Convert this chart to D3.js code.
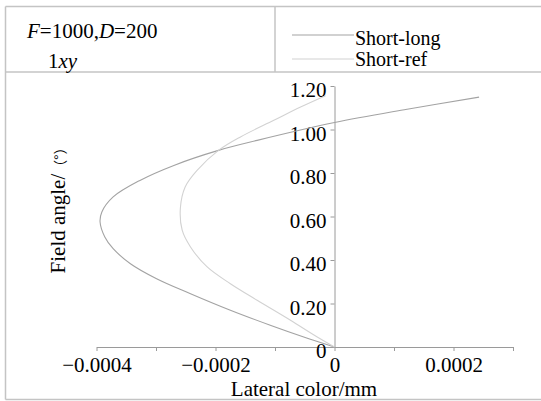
<!DOCTYPE html>
<html>
<head>
<meta charset="utf-8">
<script src="https://cdn.jsdelivr.net/npm/d3@7"></script>
</head>
<body style="margin:0">
<svg id="chart" width="541" height="401"></svg>
<script>
// ---- data ----
const seriesNames = ["Short-long", "Short-ref"];
const shortLongAngle = [0, 0.046, 0.100, 0.169, 0.245, 0.314, 0.383, 0.452, 0.506, 0.575, 0.621, 0.690, 0.766, 0.835, 0.904, 0.950, 1.032, 1.093, 1.149];
const shortLongColor = [0, -0.0000517, -0.000108, -0.000175, -0.000242, -0.000299, -0.000343, -0.000372, -0.000386, -0.000394, -0.000391, -0.000372, -0.000327, -0.000270, -0.000195, -0.000130, 0, 0.000122, 0.000243];
const shortRefAngle = [0, 0.046, 0.123, 0.215, 0.291, 0.368, 0.460, 0.537, 0.640, 0.736, 0.812, 0.904, 0.966, 1.042, 1.103, 1.155];
const shortRefColor = [0, -0.000029, -0.000074, -0.000130, -0.000175, -0.000214, -0.000242, -0.000256, -0.000259, -0.000251, -0.000231, -0.000195, -0.000158, -0.000102, -0.000057, -0.000015];
const xTicks = [-0.0004, -0.0003, -0.0002, -0.0001, 0, 0.0001, 0.0002, 0.0003];
const xLabelTicks = [-0.0004, -0.0002, 0, 0.0002];
const yTicks = [0, 0.2, 0.4, 0.6, 0.8, 1.0, 1.2];

const svg = d3.select("#chart");
const frameColor = "#c4c4c4";
const axisColor = "#9a9a9a";
const colors = ["#a3a3a3", "#d2d2d2"];
const FONT = "'Liberation Serif', Tinos, 'Times New Roman', FreeSerif";

function txt(sel, size) {
  return sel.style("font-family", FONT).style("font-size", size + "px").style("fill", "#000");
}

// ---- frame / header ----
const frame = [[5.5, 6.5, 541, 6.5], [5.5, 6.5, 5.5, 399.5], [5.5, 399.5, 541, 399.5], [5.5, 72, 541, 72], [275, 6.5, 275, 72]];
frame.forEach(f => svg.append("line").attr("x1", f[0]).attr("y1", f[1]).attr("x2", f[2]).attr("y2", f[3])
  .attr("stroke", frameColor).attr("stroke-width", 1.5));

const h1 = txt(svg.append("text").attr("x", 27).attr("y", 38), 21);
h1.append("tspan").style("font-style", "italic").text("F");
h1.append("tspan").text("=1000,");
h1.append("tspan").style("font-style", "italic").text("D");
h1.append("tspan").text("=200");
const h2 = txt(svg.append("text").attr("x", 48).attr("y", 68), 21);
h2.append("tspan").text("1");
h2.append("tspan").style("font-style", "italic").text("xy");

// legend
const legY = [35, 59];
const legTextY = [45, 66];
seriesNames.forEach((name, i) => {
  svg.append("line").attr("x1", 292).attr("x2", 354).attr("y1", legY[i]).attr("y2", legY[i])
    .attr("stroke", colors[i]).attr("stroke-width", 1.2);
  txt(svg.append("text").attr("x", 355).attr("y", legTextY[i]), 20).text(name);
});

// ---- scales ----
const x = d3.scaleLinear().domain([-0.0004, 0.0003]).range([96.5, 513]);
const y = d3.scaleLinear().domain([0, 1.2]).range([347, 86]);

// x axis
const fmtX = d => d === 0 ? "0" : d3.format(".4f")(d);
const xAxis = svg.append("g").attr("transform", "translate(0,347)")
  .call(d3.axisBottom(x).tickValues(xTicks).tickSize(4).tickSizeOuter(0).tickPadding(6)
    .tickFormat(d => xLabelTicks.some(v => Math.abs(v - d) < 1e-9) ? fmtX(d) : ""));
xAxis.attr("font-family", null).attr("font-size", null);
xAxis.selectAll("path, line").attr("stroke", axisColor);
txt(xAxis.selectAll("text"), 21);

// y axis
const yAxis = svg.append("g").attr("transform", "translate(" + x(0) + ",0)")
  .call(d3.axisLeft(y).tickValues(yTicks).tickSize(4).tickSizeOuter(0).tickPadding(4)
    .tickFormat(d => d === 0 ? "0" : d3.format(".2f")(d)));
yAxis.attr("font-family", null).attr("font-size", null);
yAxis.selectAll("path, line").attr("stroke", axisColor);
txt(yAxis.selectAll("text"), 21).attr("dy", "0.5em");

// axis titles
txt(svg.append("text").attr("x", 304).attr("y", 396).attr("text-anchor", "middle"), 21).text("Lateral color/mm");
const yt = txt(svg.append("text").attr("transform", "translate(65,207) rotate(-90)").attr("text-anchor", "middle"), 21);
yt.append("tspan").text("Field angle/");
yt.append("tspan").style("font-family", "'Noto Sans CJK SC'").style("font-size", "14px").text("（°）");

// ---- lines ----
const line = d3.line().x(d => x(d[0])).y(d => y(d[1])).curve(d3.curveCatmullRom.alpha(0.5));
const slData = shortLongColor.map((v, i) => [v, shortLongAngle[i]]);
const srData = shortRefColor.map((v, i) => [v, shortRefAngle[i]]);
[slData, srData].forEach((data, i) => {
  svg.append("path").datum(data).attr("d", line).attr("fill", "none")
    .attr("stroke", colors[i]).attr("stroke-width", 1.1);
});
</script>
</body>
</html>
